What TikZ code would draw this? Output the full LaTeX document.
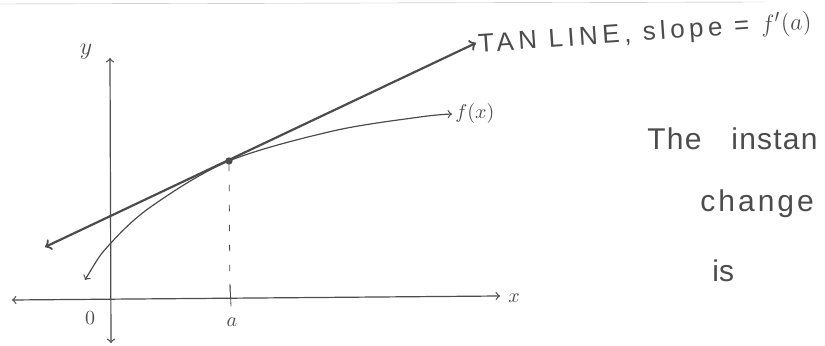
\documentclass[tikz,border=0pt]{standalone}
\usepackage{fontspec}
\setmainfont{Liberation Sans}
\usetikzlibrary{positioning}
\definecolor{pencil}{gray}{0.3}

\begin{document}
\begin{tikzpicture}[>=to, x=0.5pt, y=-0.5pt, line cap=round,
    axisline/.style={pencil, semithick},
    tanline/.style={pencil, line width=1.1pt},
    curveline/.style={pencil, semithick},
    hand/.style={pencil, inner sep=0pt},
    dot/.style={circle, fill=pencil, inner sep=1.3pt}]
  \useasboundingbox (0,0) rectangle (825,346);
  % page edge
  \draw[gray!55, very thin] (0,4) -- (765,2);
  % axes
  \coordinate (ytop) at (110,58);
  \coordinate (ybot) at (111,343);
  \coordinate (xleft) at (12,300);
  \coordinate (xright) at (500,296);
  \draw[axisline, <->] (ybot) -- (ytop);
  \draw[axisline, <->] (xleft) -- (xright);
  \node[hand, font=\large] (ylab) at (86,52) {$y$};
  \node[hand] (olab) at (90,318) {$0$};
  \node[hand] (xlab) at (514,298) {$x$};
  % point on the curve at a
  \node[dot] (P) at (229,161) {};
  \coordinate (A) at (230,298);
  \node[hand] (alab) at (232,322) {$a$};
  \draw[pencil, dash pattern=on 3pt off 7pt] (P) -- (A);
  \draw[pencil] (230,284) -- (231,306);
  % f(x)
  \draw[curveline, <->] plot[smooth, tension=0.55] coordinates
    {(85,280) (110,244) (152,206) (P) (333,131) (420,117) (452,114)};
  \node[hand, anchor=west] (flab) at (455,114) {$f(x)$};
  % tangent
  \coordinate (tL) at (45,247);
  \coordinate (tR) at (476,43);
  \draw[tanline, <->] (tL) -- (tR);
  \node[hand, anchor=west, rotate=4,
        font=\fontsize{13}{15}\selectfont\addfontfeature{LetterSpace=17}]
    (tanlab) at (478,46) {TAN LINE, slope = $f'(a)$};
  % text on the right
  \node[hand, anchor=base west,
        font=\fontsize{15}{18}\selectfont\addfontfeature{LetterSpace=4}]
    (line1) at (647,150) {The\hspace{15pt}instan};
  \node[hand, anchor=base west,
        font=\fontsize{15}{18}\selectfont\addfontfeature{LetterSpace=10}]
    (line2) at (700,212) {change};
  \node[hand, anchor=base west, font=\fontsize{15}{18}\selectfont]
    (line3) at (712,282) {is};
\end{tikzpicture}
\end{document}
